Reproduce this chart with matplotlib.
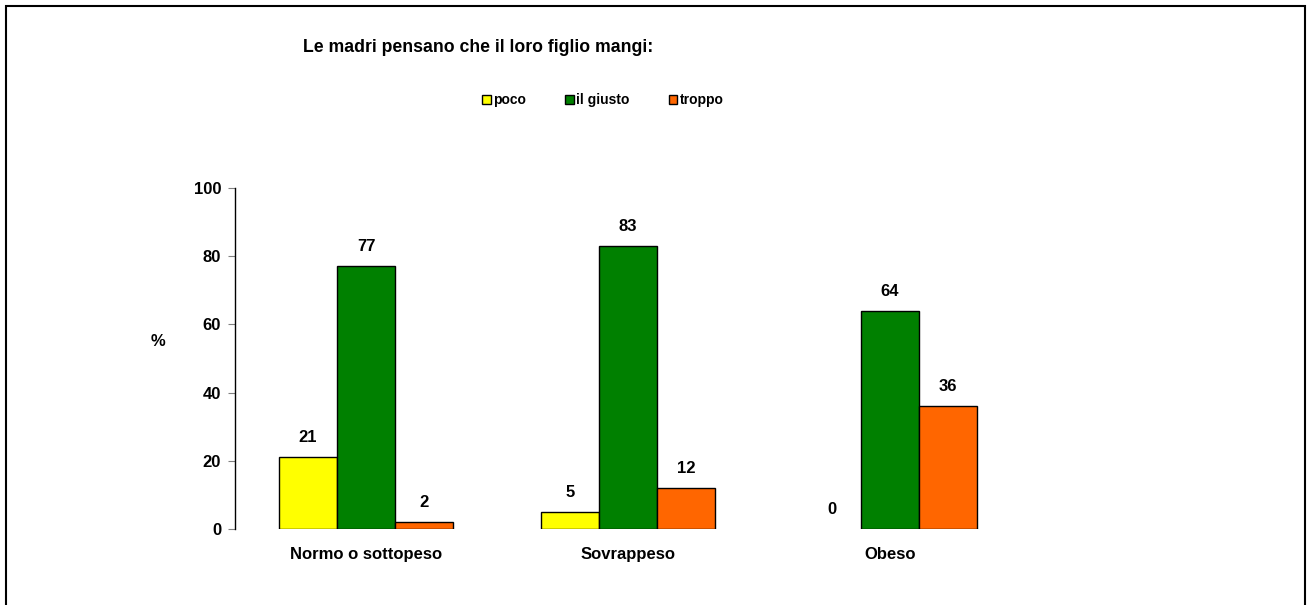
import matplotlib
matplotlib.use('Agg')
from matplotlib import pyplot as plt
from matplotlib.patches import Rectangle
import numpy as np

# dati
categorie = ['Normo o sottopeso', 'Sovrappeso', 'Obeso']
serie = ['poco', 'il giusto', 'troppo']
poco = [21, 5, 0]
giusto = [77, 83, 64]
troppo = [2, 12, 36]
colori = ['#ffff00', '#008000', '#ff6600']
y_ticks = [0, 20, 40, 60, 80, 100]

plt.rcParams['font.family'] = ['Liberation Sans', 'DejaVu Sans']
plt.rcParams['font.weight'] = 'bold'

fig = plt.figure(figsize=(13.07, 6.05), dpi=100)
ax = fig.add_axes([0.1798, 0.1256, 0.6014, 0.5637])

x = np.arange(len(categorie))
w = 0.2214
valori = [poco, giusto, troppo]
for i, (nome, vals, col) in enumerate(zip(serie, valori, colori)):
    pos = x + (i - 1) * w
    lw = [1 if v > 0 else 0 for v in vals]
    ax.bar(pos, vals, width=w, color=col, edgecolor='black', linewidth=lw, label=nome)
    for xp, v in zip(pos, vals):
        ax.text(xp, v + 3.5, str(v), ha='center', va='bottom', fontsize=12, fontweight='bold')

ax.set_xlim(-0.5, 2.5)
ax.set_ylim(0, 100)
ax.set_yticks(y_ticks)
ax.set_xticks(x)
ax.set_xticklabels(categorie, fontsize=12, fontweight='bold')
ax.tick_params(axis='x', length=0, pad=13)
ax.tick_params(axis='y', labelsize=12, length=5, color='#808080', pad=5)
for s in ['top', 'right', 'bottom']:
    ax.spines[s].set_visible(False)
ax.spines['left'].set_linewidth(1)

fig.text(158 / 1307, 1 - 341 / 605, '%', ha='center', va='center', fontsize=12, fontweight='bold')
fig.text(478 / 1307, 1 - 47 / 605, 'Le madri pensano che il loro figlio mangi:',
         ha='center', va='center', fontsize=12.7, fontweight='bold')

leg = fig.legend(loc='center', bbox_to_anchor=(603 / 1307, 1 - 100 / 605), ncol=3,
                 frameon=False, fontsize=10, handlelength=0.6, handleheight=0.6,
                 handletextpad=0.2, columnspacing=2.8)
for t in leg.get_texts():
    t.set_fontweight('bold')

# cornice
fig.patches.append(Rectangle((6 / 1307, -0.05), 1299 / 1307, 1.05 - 6 / 605,
                             transform=fig.transFigure, fill=False,
                             edgecolor='black', linewidth=1.5, clip_on=False))

fig.savefig('out.png', dpi=100)
